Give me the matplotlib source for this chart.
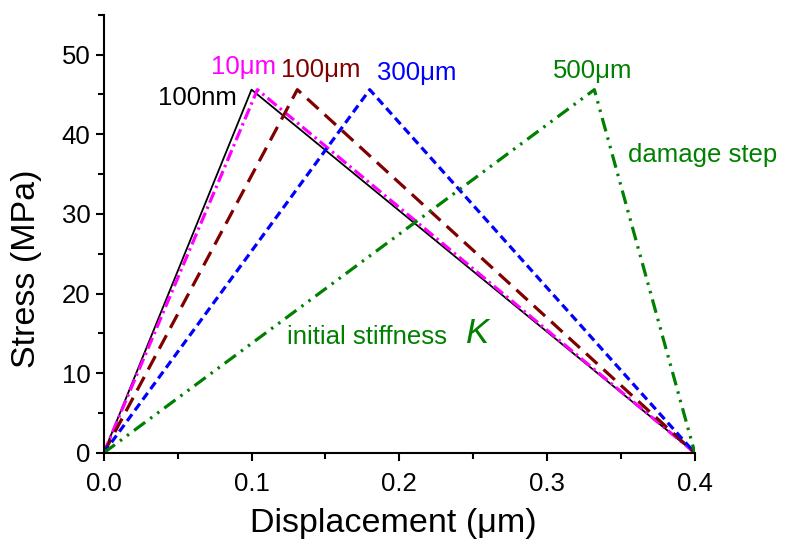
import matplotlib.pyplot as plt
from matplotlib.ticker import MultipleLocator

plt.rcParams["font.family"] = ["Liberation Sans", "DejaVu Sans"]
plt.rcParams["lines.scale_dashes"] = False

# peak displacement of each size, all curves peak at the same stress and fail at 0.4
sizes = ["100nm", "10\u03bcm", "100\u03bcm", "300\u03bcm", "500\u03bcm"]
peak_disp = [0.100, 0.104, 0.131, 0.180, 0.332]
peak_stress = 45.6
fail_disp = 0.4

colors = ["black", "#ff00ff", "#800000", "#0000ff", "#008000"]
styles = [
    "-",
    (0, (8.5, 3, 1.8, 3)),
    (0, (11, 6)),
    (0, (6, 3.5)),
    (0, (10, 4.5, 1.8, 4.5, 1.8, 4.5)),
]
widths = [1.3, 2.3, 2.3, 2.3, 2.3]

fig, ax = plt.subplots(figsize=(7.86, 5.47), dpi=100)
plt.subplots_adjust(left=0.132, right=0.884, bottom=0.172, top=0.973)

for xp, c, ls, lw in zip(peak_disp, colors, styles, widths):
    ax.plot([0, xp, fail_disp], [0, peak_stress, 0], color=c, linestyle=ls, linewidth=lw)

ax.set_xlim(0, 0.4)
ax.set_ylim(0, 55)
ax.xaxis.set_major_locator(MultipleLocator(0.1))
ax.xaxis.set_minor_locator(MultipleLocator(0.05))
ax.yaxis.set_major_locator(MultipleLocator(10))
ax.yaxis.set_minor_locator(MultipleLocator(5))
ax.xaxis.set_major_formatter(plt.FormatStrFormatter("%.1f"))

for s in ["top", "right"]:
    ax.spines[s].set_visible(False)
for s in ["left", "bottom"]:
    ax.spines[s].set_linewidth(1.5)

ax.tick_params(which="major", direction="out", length=6, width=1.5, labelsize=18.5)
ax.tick_params(which="minor", direction="out", length=4, width=1.5)
ax.tick_params(axis="x", pad=8)

ax.set_xlabel("Displacement (\u03bcm)", fontsize=24.5)
ax.set_ylabel("Stress (MPa)", fontsize=24.5)
ax.xaxis.set_label_coords(0.49, -0.125)
ax.yaxis.set_label_coords(-0.105, 0.42)

fs = 18.5
ax.text(0.0899, 44.6, sizes[0], color=colors[0], fontsize=fs, ha="right", va="center")
ax.text(0.0946, 48.4, sizes[1], color=colors[1], fontsize=fs, ha="center", va="center")
ax.text(0.147, 48.1, sizes[2], color=colors[2], fontsize=fs, ha="center", va="center")
ax.text(0.212, 47.7, sizes[3], color=colors[3], fontsize=fs, ha="center", va="center")
ax.text(0.331, 47.9, sizes[4], color=colors[4], fontsize=fs, ha="center", va="center")
ax.text(0.355, 37.4, "damage step", color=colors[4], fontsize=fs, ha="left", va="center")
ax.text(0.124, 14.6, "initial stiffness", color=colors[4], fontsize=fs, ha="left", va="center")
ax.text(0.245, 15.0, "K", color=colors[4], fontsize=25, style="italic", ha="left", va="center")

plt.savefig("out.png", dpi=100)
